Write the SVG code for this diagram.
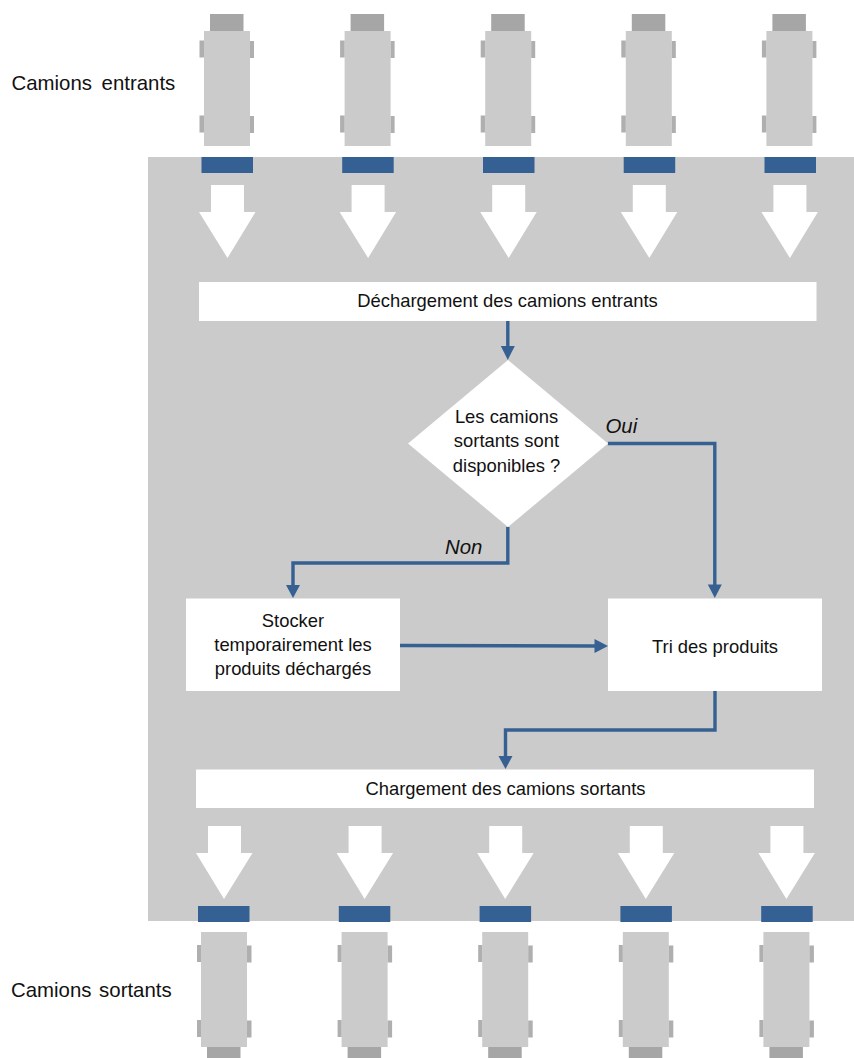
<svg xmlns="http://www.w3.org/2000/svg" xmlns:xlink="http://www.w3.org/1999/xlink" width="854" height="1058" viewBox="0 0 854 1058">
<style>
text{font-family:"Liberation Sans",Arial,sans-serif;font-size:18.4px;fill:#111;text-anchor:middle}
.lab{font-size:20.4px;text-anchor:start;word-spacing:1px}
.it{font-style:italic;font-size:20.4px;text-anchor:start}
.box{fill:#fff}
.body{fill:#cbcbcb}
.dark{fill:#a6a6a6}
.wheel{fill:#afafaf}
.dock{fill:#356093}
.flow{fill:#fff}
.conn{fill:none;stroke:#376092;stroke-width:3.400}
.head{fill:#376092}
</style>
<defs>
<g id="truckIn">
<rect class="dark" x="210" y="14" width="33.500" height="17"/>
<rect class="body" x="204" y="31" width="46" height="115"/>
<rect class="wheel" x="199.500" y="40.500" width="4.500" height="17"/>
<rect class="wheel" x="250" y="41" width="4" height="17"/>
<rect class="wheel" x="199.500" y="115.500" width="4.500" height="17"/>
<rect class="wheel" x="250" y="116" width="4" height="17"/>
</g>
<g id="truckOut">
<rect class="body" x="201" y="932" width="46" height="115"/>
<rect class="dark" x="207" y="1047" width="33.500" height="11"/>
<rect class="wheel" x="197" y="945" width="4" height="17"/>
<rect class="wheel" x="247" y="945.500" width="4.500" height="17"/>
<rect class="wheel" x="197" y="1020" width="4" height="17"/>
<rect class="wheel" x="247" y="1020.500" width="4.500" height="17"/>
</g>
<polygon id="flowIn" class="flow" points="211,185 244,185 244,212 255.500,212 227.500,258 199,212 211,212"/>
<polygon id="flowOut" class="flow" points="208,826 241,826 241,853 252.500,853 224,899 196,853 208,853"/>
</defs>

<rect id="zone" x="148" y="157" width="706" height="764" fill="#cbcbcb"/>

<g id="trucks-in">
<use id="truck-in-1" xlink:href="#truckIn"/>
<use id="truck-in-2" xlink:href="#truckIn" x="140.600"/>
<use id="truck-in-3" xlink:href="#truckIn" x="281.200"/>
<use id="truck-in-4" xlink:href="#truckIn" x="421.800"/>
<use id="truck-in-5" xlink:href="#truckIn" x="562.400"/>
</g>
<g id="docks-in">
<rect class="dock" x="201.500" y="157" width="51.500" height="16"/>
<rect class="dock" x="342.200" y="157" width="51.500" height="16"/>
<rect class="dock" x="483" y="157" width="51.500" height="16"/>
<rect class="dock" x="623.700" y="157" width="51.500" height="16"/>
<rect class="dock" x="764.500" y="157" width="51.500" height="16"/>
</g>
<g id="arrows-in">
<use xlink:href="#flowIn"/>
<use xlink:href="#flowIn" x="140.600"/>
<use xlink:href="#flowIn" x="281.200"/>
<use xlink:href="#flowIn" x="421.800"/>
<use xlink:href="#flowIn" x="562.400"/>
</g>

<g id="trucks-out">
<use id="truck-out-1" xlink:href="#truckOut"/>
<use id="truck-out-2" xlink:href="#truckOut" x="140.600"/>
<use id="truck-out-3" xlink:href="#truckOut" x="281.200"/>
<use id="truck-out-4" xlink:href="#truckOut" x="421.800"/>
<use id="truck-out-5" xlink:href="#truckOut" x="562.400"/>
</g>
<g id="docks-out">
<rect class="dock" x="198" y="906" width="51.500" height="16"/>
<rect class="dock" x="338.800" y="906" width="51.500" height="16"/>
<rect class="dock" x="479.600" y="906" width="51.500" height="16"/>
<rect class="dock" x="620.400" y="906" width="51.500" height="16"/>
<rect class="dock" x="761.200" y="906" width="51.500" height="16"/>
</g>
<g id="arrows-out">
<use xlink:href="#flowOut"/>
<use xlink:href="#flowOut" x="140.600"/>
<use xlink:href="#flowOut" x="281.200"/>
<use xlink:href="#flowOut" x="421.800"/>
<use xlink:href="#flowOut" x="562.400"/>
</g>

<g id="connectors">
<path class="conn" d="M507.800,321V348"/>
<polygon class="head" points="500.800,346 514.800,346 507.800,360"/>
<path class="conn" d="M608,443.500H714.800V586"/>
<polygon class="head" points="707.800,584.500 721.800,584.500 714.800,598"/>
<path class="conn" d="M507.800,527V563H293V586"/>
<polygon class="head" points="286,585 300,585 293,598"/>
<path class="conn" d="M400,645.500L596,646"/>
<polygon class="head" points="594.500,639 608,646 594.500,653"/>
<path class="conn" d="M715,691V730H505.500V757"/>
<polygon class="head" points="498.500,756 512.500,756 505.500,769"/>
</g>

<g id="label-in"><text class="lab" x="11.500" y="90" style="word-spacing:4px">Camions entrants</text></g>
<g id="label-out"><text class="lab" x="11" y="997" style="word-spacing:2px">Camions sortants</text></g>

<g id="node-unload">
<rect class="box" x="199" y="282" width="617.500" height="39"/>
<text x="507.500" y="307">Déchargement des camions entrants</text>
</g>
<g id="node-decision">
<polygon class="box" points="508,360 608,443.500 508,527 408,443.500"/>
<text x="506.500" y="423">Les camions</text>
<text x="506.500" y="447">sortants sont</text>
<text x="506.500" y="471.500">disponibles ?</text>
</g>
<g id="label-oui"><text class="it" x="605.500" y="433">Oui</text></g>
<g id="label-non"><text class="it" x="445" y="554">Non</text></g>
<g id="node-store">
<rect class="box" x="186" y="598.500" width="214" height="92.500"/>
<text x="293" y="626.500">Stocker</text>
<text x="293" y="650.500">temporairement les</text>
<text x="293" y="675">produits déchargés</text>
</g>
<g id="node-sort">
<rect class="box" x="608" y="598.500" width="214" height="92.500"/>
<text x="715" y="652.500">Tri des produits</text>
</g>
<g id="node-load">
<rect class="box" x="196" y="769.500" width="618" height="38.500"/>
<text x="505.500" y="795">Chargement des camions sortants</text>
</g>
</svg>
